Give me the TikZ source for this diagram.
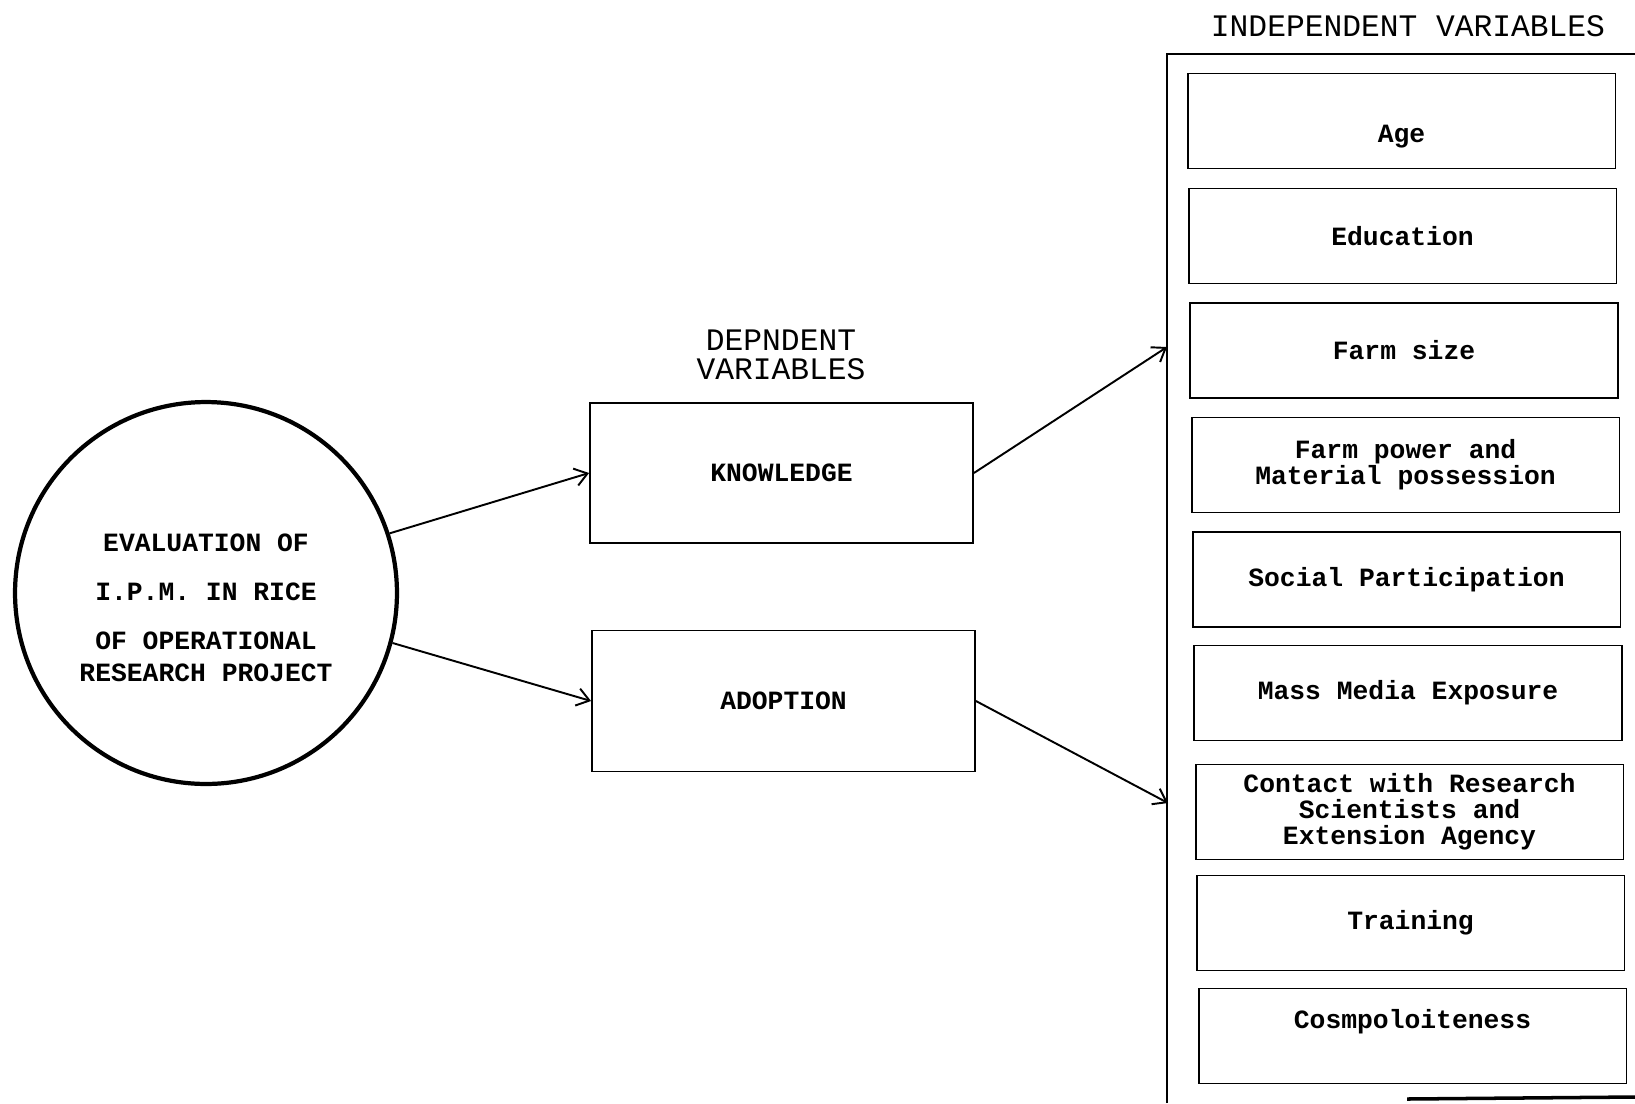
\documentclass[tikz,border=0pt]{standalone}
\usepackage{fontspec}
\setmonofont{Liberation Mono}
\usetikzlibrary{arrows.meta}

\begin{document}
\begin{tikzpicture}[x=0.02cm, y=-0.02cm,
  >={Straight Barb[length=7pt,width=10pt]},
  heading/.style={align=center, font=\ttfamily\fontsize{17.8}{16.5}\selectfont},
  varbox/.style={draw, line width=1.1pt, minimum width=8.56cm, minimum height=1.9cm,
    inner sep=2pt, align=center, font=\ttfamily\bfseries\fontsize{15}{14.8}\selectfont},
  link/.style={->, line width=1.1pt}]
  \useasboundingbox (0,0) rectangle (1635,1103);
  % Study circle
  \node[draw, circle, line width=2.4pt, minimum size=7.64cm, inner sep=0pt, align=center,
    font=\ttfamily\bfseries\fontsize{15}{18}\selectfont] (study) at (206,593)
    {\rule{0pt}{27pt}EVALUATION OF\\[10pt] I.P.M. IN RICE\\[10pt] OF OPERATIONAL\\ RESEARCH PROJECT};
  % Dependent variables
  \node[heading] (deplbl) at (781,355) {DEPNDENT\\VARIABLES};
  \node[varbox, minimum width=7.66cm, minimum height=2.8cm] (know) at (781.5,473) {KNOWLEDGE};
  \node[varbox, minimum width=7.66cm, minimum height=2.82cm] (adopt) at (783.5,701) {ADOPTION};
  % Independent variables frame
  \node[heading] (indlbl) at (1408,26) {INDEPENDENT VARIABLES};
  \draw[line width=1.1pt] (1167,1103) -- (1167,54) -- (1635,54);
  \draw[line width=2pt] (1407,1099) -- (1635,1097);
  \coordinate (indtop) at (1167,347);
  \coordinate (indbot) at (1168,803);
  % Independent variable boxes
  \node[varbox, text height=1em+18pt] (age) at (1401.5,121) {Age};
  \node[varbox] (edu) at (1402.5,236) {Education};
  \node[varbox] (farm) at (1404,350.5) {Farm size};
  \node[varbox] (power) at (1405.5,465) {Farm power and\\Material possession};
  \node[varbox] (social) at (1406.5,579.5) {Social Participation};
  \node[varbox] (media) at (1408,693) {Mass Media Exposure};
  \node[varbox] (contact) at (1409.5,812) {Contact with Research\\Scientists and\\Extension Agency};
  \node[varbox] (train) at (1410.5,923) {Training};
  \node[varbox, text depth=0.3em+16pt] (cosmo) at (1412.5,1036) {Cosmpoloiteness};
  % Arrows
  \draw[link] (study.18) -- (know.west);
  \draw[link] (study.-15) -- (adopt.west);
  \draw[link] (know.east) -- (indtop);
  \draw[link] (adopt.east) -- (indbot);
\end{tikzpicture}
\end{document}
